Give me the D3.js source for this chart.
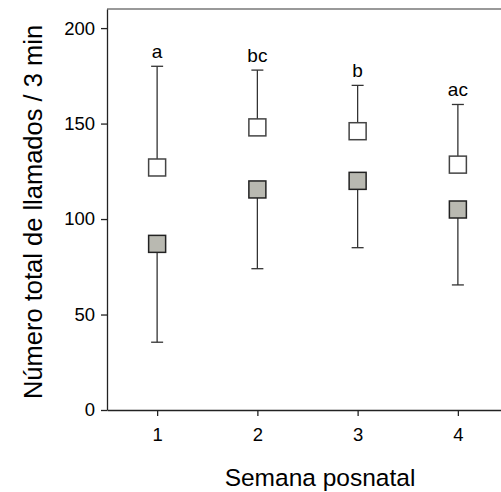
<!DOCTYPE html>
<html>
<head>
  <meta charset="utf-8">
  <script src="https://d3js.org/d3.v7.min.js"></script>
  <style>
    body { margin: 0; background: #fff; }
    svg text { font-family: "Liberation Sans", Arial, sans-serif; fill: #000; }
  </style>
</head>
<body>
  <script>
    // weeks and group means
    var weeks = [1, 2, 3, 4];
    var openMean = [127, 148, 146, 128.5];
    var openUpper = [180, 178, 170, 160];
    var filledMean = [87, 115.5, 120, 105];
    var filledLower = [35.5, 74, 85, 65.5];
    var letters = ["a", "bc", "b", "ac"];
    var yTicks = [0, 50, 100, 150, 200];

    var width = 501, height = 492;
    var sq = 17, cap = 12;

    var svg = d3.select("body").append("svg")
      .attr("width", width)
      .attr("height", height);

    var x = d3.scaleLinear().domain([0.5, 4.5]).range([107, 508]);
    var y = d3.scaleLinear().domain([0, 210]).range([410, 9]);

    // top frame line
    svg.append("line")
      .attr("x1", x(0.5)).attr("x2", x(4.5))
      .attr("y1", y(210)).attr("y2", y(210))
      .attr("stroke", "#777").attr("stroke-width", 1.5);

    var xAxis = svg.append("g")
      .attr("transform", "translate(0," + y(0) + ")")
      .call(d3.axisBottom(x).tickValues(weeks).tickFormat(d3.format("d")).tickSizeInner(6).tickSizeOuter(0).tickPadding(12));
    var yAxis = svg.append("g")
      .attr("transform", "translate(" + x(0.5) + ",0)")
      .call(d3.axisLeft(y).tickValues(yTicks).tickSizeInner(6).tickSizeOuter(0).tickPadding(6));

    [xAxis, yAxis].forEach(function(g) {
      g.selectAll("path, line").attr("stroke", "#222").attr("stroke-width", 1.3);
      g.selectAll("text").attr("font-size", 18.5);
    });

    var grp = svg.selectAll("g.wk")
      .data(weeks)
      .enter()
      .append("g")
      .attr("class", "wk");

    // upper error bars (open squares)
    grp.append("line")
      .attr("x1", function(d) { return x(d); })
      .attr("x2", function(d) { return x(d); })
      .attr("y1", function(d, i) { return y(openMean[i]); })
      .attr("y2", function(d, i) { return y(openUpper[i]); })
      .attr("stroke", "#333").attr("stroke-width", 1.3);
    grp.append("line")
      .attr("x1", function(d) { return x(d) - cap / 2; })
      .attr("x2", function(d) { return x(d) + cap / 2; })
      .attr("y1", function(d, i) { return y(openUpper[i]); })
      .attr("y2", function(d, i) { return y(openUpper[i]); })
      .attr("stroke", "#333").attr("stroke-width", 1.3);

    // lower error bars (filled squares)
    grp.append("line")
      .attr("x1", function(d) { return x(d); })
      .attr("x2", function(d) { return x(d); })
      .attr("y1", function(d, i) { return y(filledMean[i]); })
      .attr("y2", function(d, i) { return y(filledLower[i]); })
      .attr("stroke", "#333").attr("stroke-width", 1.3);
    grp.append("line")
      .attr("x1", function(d) { return x(d) - cap / 2; })
      .attr("x2", function(d) { return x(d) + cap / 2; })
      .attr("y1", function(d, i) { return y(filledLower[i]); })
      .attr("y2", function(d, i) { return y(filledLower[i]); })
      .attr("stroke", "#333").attr("stroke-width", 1.3);

    grp.append("rect")
      .attr("x", function(d) { return x(d) - sq / 2; })
      .attr("y", function(d, i) { return y(openMean[i]) - sq / 2; })
      .attr("width", sq).attr("height", sq)
      .attr("fill", "#fff").attr("stroke", "#444").attr("stroke-width", 1.5);

    grp.append("rect")
      .attr("x", function(d) { return x(d) - sq / 2; })
      .attr("y", function(d, i) { return y(filledMean[i]) - sq / 2; })
      .attr("width", sq).attr("height", sq)
      .attr("fill", "#b9b9b1").attr("stroke", "#222").attr("stroke-width", 1.5);

    grp.append("text")
      .attr("x", function(d) { return x(d); })
      .attr("y", function(d, i) { return y(openUpper[i]) - 8; })
      .attr("text-anchor", "middle")
      .attr("font-size", 19)
      .text(function(d, i) { return letters[i]; });

    svg.append("text")
      .attr("x", 320).attr("y", 486)
      .attr("text-anchor", "middle")
      .attr("font-size", 24.5)
      .text("Semana posnatal");

    svg.append("text")
      .attr("transform", "translate(42,212) rotate(-90)")
      .attr("text-anchor", "middle")
      .attr("font-size", 25.5)
      .text("Número total de llamados / 3 min");
  </script>
</body>
</html>
